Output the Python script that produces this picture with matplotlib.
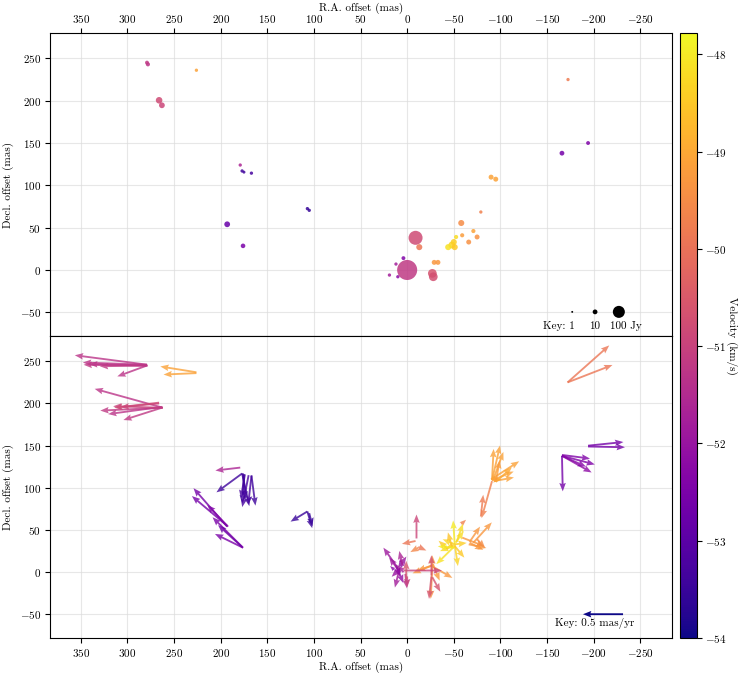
import numpy as np
import matplotlib
matplotlib.use('Agg')
import matplotlib.pyplot as plt
from matplotlib.colors import Normalize

plt.rcParams['font.family'] = 'serif'
plt.rcParams['font.serif'] = ['cmr10', 'DejaVu Serif']
plt.rcParams['mathtext.fontset'] = 'cm'
plt.rcParams['axes.formatter.use_mathtext'] = True
plt.rcParams['font.size'] = 8

# ---------------- spot data (top panel) ----------------
spot_x = [279, 278, 226, 266, 263, -172.5, -194, -166, 179, 177, 175, 167, 193, 176,
          107, 105, 0, -9, -13, 4, 12, 19, 10, -27, -28, -29, -33,
          -44, -48, -50, -52.5, -51, -58, -59, -66, -71, -75, -79, -90, -95]
spot_y = [245, 243, 236, 200.5, 194.6, 225, 150, 138, 124, 117, 115.6, 114.4, 54, 28.5,
          72.5, 70.5, 0, 38, 27, 14, 7, -6, -8, -4, -8, 9, 9,
          27, 29.5, 33, 39, 27, 55.5, 41, 33, 46, 39, 68.5, 109.7, 107.3]
spot_flux = [6, 7, 4, 22, 16, 4, 6, 10, 4, 4, 3, 4, 16, 9,
             4, 4, 360, 147, 18, 6, 4, 4, 4, 45, 45, 11, 11,
             18, 25, 18, 7, 18, 18, 7, 11, 7, 11, 4, 11, 11]
spot_vel = [-51.2, -51.3, -49.1, -50.8, -50.9, -49.8, -52.4, -52.6, -51.6, -53.4, -53.4, -53.3, -52.8, -52.5,
            -53.55, -53.55, -51.2, -50.8, -49.9, -52.4, -51.8, -51.8, -52.2, -50.6, -50.7, -49.3, -49.3,
            -48.1, -48.3, -48.4, -48.2, -48.5, -49.5, -49.2, -49.4, -49.1, -49.4, -49.7, -49.1, -49.1]

# ---------------- proper motion data (bottom panel) ----------------
pm_x = [279, 279, 279, 280, 278, 279,
        226, 226,
        262, 262, 263, 262, 263, 266, 266,
        -172, -172,
        -194, -194,
        -166, -166, -166, -166, -166,
        179,
        177, 177, 175, 167, 167, 174, 176, 170,
        193, 193, 192, 176, 176, 177,
        107, 107, 105,
        -91, -91, -92, -90, -91, -93, -91, -95, -95,
        -91, -79, -58,
        -71, -67, -67, -59, -66, -75,
        -51, -51, -50, -49, -51, -51, -51, -52, -51, -48, -44, -50, -53,
        -27, -27, -27, -28, -27, -29,
        -26, -26, -27,
        -10, -9, -12, -12,
        4,
        10, 8, 8, 6, 4, 12, 2, 14, 0, 6, 1, 9, 11, 5]
pm_y = [246, 246, 245, 245, 245, 245,
        237, 236,
        195, 195, 196, 195, 195, 201, 200,
        225, 225,
        149, 150,
        138, 138, 139, 138, 138,
        124,
        117, 117, 116, 114, 115, 116, 117, 115,
        54, 55, 54, 29, 29, 30,
        72, 72, 70,
        109, 110, 109, 110, 109, 108, 110, 107, 107,
        108, 66, 57,
        35, 36, 35, 41, 33, 39,
        33, 33, 32, 31, 33, 31, 33, 35, 31, 30, 27, 29, 36,
        8, 8, 7, 8, 8, 9,
        -4, -5, -6,
        40, 37, 30, 29,
        2,
        5, 5, 4, 6, 0, 8, -2, 3, -5, 10, -8, 2, 6, 8]
pm_u = [0.90, 0.80, 0.79, 0.71, 0.60, 0.37,
        0.45, 0.41,
        0.85, 0.78, 0.67, 0.62, 0.48, 0.56, 0.48,
        -0.52, -0.56,
        -0.46, -0.44,
        -0.41, -0.37, -0.35, -0.30, -0.01,
        0.31,
        0.32, -0.09, 0.02, 0.04, -0.05, 0.05, -0.03, 0.08,
        0.42, 0.44, 0.26, 0.35, 0.38, 0.30,
        0.21, -0.06, -0.04,
        -0.10, -0.02, -0.13, -0.35, -0.27, -0.25, -0.12, -0.05, -0.20,
        0.13, -0.03, -0.06,
        -0.23, -0.13, -0.17, -0.28, -0.22, -0.10,
        0.02, 0.15, 0.10, 0.16, -0.04, 0.23, -0.15, -0.10, -0.12, 0.05, 0.12, 0.20, -0.08,
        0.02, 0.00, -0.25, -0.08, 0.19, 0.27,
        0.00, 0.03, -0.10,
        0.00, 0.17, -0.10, 0.10,
        -0.48,
        0.18, 0.06, 0.10, 0.02, 0.08, -0.05, -0.02, 0.05, 0.00, -0.06, 0.00, 0.12, -0.08, 0.04]
pm_v = [0.13, 0.03, 0.01, 0.02, -0.01, -0.15,
        0.08, -0.02,
        0.26, -0.04, -0.10, 0.02, -0.17, -0.07, -0.05,
        0.51, 0.24,
        -0.01, 0.05,
        -0.12, -0.23, -0.05, -0.15, -0.49,
        -0.04,
        -0.26, -0.45, -0.40, -0.39, -0.42, -0.33, -0.36, -0.44,
        0.53, 0.41, 0.30, 0.19, 0.42, 0.30,
        -0.14, -0.23, -0.18,
        0.48, 0.42, 0.39, 0.25, 0.12, 0.05, 0.00, 0.30, 0.20,
        -0.51, 0.30, 0.06,
        0.28, 0.21, -0.10, -0.12, -0.05, -0.12,
        0.33, 0.07, -0.04, -0.07, -0.30, -0.25, 0.02, 0.16, -0.16, 0.20, 0.12, 0.02, 0.25,
        -0.46, 0.14, -0.16, -0.21, -0.07, -0.12,
        0.28, -0.31, -0.20,
        0.33, -0.04, -0.05, -0.06,
        0.00,
        0.28, -0.27, -0.11, 0.12, 0.10, -0.15, -0.20, 0.05, -0.15, 0.10, 0.25, 0.18, -0.22, 0.20]
pm_vel = [-51.3, -51.3, -51.2, -51.3, -51.2, -51.3,
          -49.1, -49.1,
          -51.3, -51.2, -51.3, -51.0, -51.2, -50.8, -50.9,
          -49.9, -49.9,
          -52.6, -52.6,
          -52.4, -52.2, -52.4, -52.3, -52.6,
          -51.6,
          -53.4, -53.4, -53.4, -53.3, -53.4, -53.3, -53.4, -53.3,
          -52.6, -52.6, -52.4, -52.5, -52.5, -52.7,
          -53.5, -53.5, -53.5,
          -49.1, -49.1, -49.1, -49.1, -49.1, -49.1, -49.1, -49.2, -49.0,
          -49.7, -49.8, -49.7,
          -49.3, -49.3, -49.3, -49.3, -49.3, -49.5,
          -48.0, -48.3, -48.4, -48.2, -48.3, -48.1, -48.4, -48.2, -48.5, -48.6, -48.5, -48.0, -48.2,
          -49.5, -49.3, -49.3, -49.3, -49.3, -49.3,
          -50.6, -50.6, -50.6,
          -50.9, -49.9, -49.9, -49.6,
          -51.0,
          -51.9, -51.8, -52.0, -52.2, -51.7, -52.1, -51.4, -52.3, -51.0, -52.0, -50.6, -51.9, -52.1, -51.6]

key_flux = [1, 10, 100]
key_pm = 0.5
vmin, vmax = -54.0, -47.78
pm_scale = 86.0  # mas of offset per mas/yr

def flux_to_size(f):
    return 1.88 * np.asarray(f, dtype=float) ** 0.8

cmap = plt.get_cmap('plasma')
norm = Normalize(vmin=vmin, vmax=vmax)

fig = plt.figure(figsize=(7.47, 6.73), dpi=100)
W, H = 747.0, 673.0
ax1 = fig.add_axes([50 / W, 1 - 336 / H, 622 / W, 303 / H])
ax2 = fig.add_axes([50 / W, 1 - 638 / H, 622 / W, 302 / H])
cax = fig.add_axes([680 / W, 1 - 638 / H, 17 / W, 605 / H])

xlim = (383, -284)
ylim = (-78, 280)
xticks = np.arange(350, -251, -50)
yticks = np.arange(-50, 251, 50)

for ax in (ax1, ax2):
    ax.set_xlim(*xlim)
    ax.set_ylim(*ylim)
    ax.set_xticks(xticks)
    ax.set_yticks(yticks)
    ax.grid(True, color='#dddddd', lw=0.8, alpha=0.7)
    ax.set_axisbelow(True)
    ax.set_ylabel('Decl. offset (mas)')
    ax.tick_params(length=3.5, width=0.8, pad=3)

# top panel
ax1.xaxis.tick_top()
ax1.xaxis.set_label_position('top')
ax1.tick_params(axis='x', pad=2)
ax1.set_xlabel('R.A. offset (mas)', labelpad=1.5)
order = np.argsort(spot_flux)[::-1]
ax1.scatter(np.array(spot_x)[order], np.array(spot_y)[order],
            s=flux_to_size(np.array(spot_flux)[order]),
            c=np.array(spot_vel)[order], cmap=cmap, norm=norm,
            alpha=0.85, edgecolors='none')
key_x = [-177, -201.5, -227]
ax1.scatter(key_x, [-49.5] * 3, s=flux_to_size(key_flux), color='black', edgecolors='none')
ax1.text(-180, -66, 'Key: 1', ha='right', va='center')
ax1.text(-201.5, -66, '10', ha='center', va='center')
ax1.text(-217, -66, '100 Jy', ha='left', va='center')

# bottom panel
ax2.set_xlabel('R.A. offset (mas)', labelpad=2)
ax2.quiver(pm_x, pm_y, pm_u, pm_v, pm_vel, cmap=cmap, norm=norm,
           angles='xy', scale_units='xy', scale=1 / pm_scale,
           width=0.003, headwidth=3.5, headlength=4.5, headaxislength=4,
           alpha=0.8)
ax2.quiver([-231.5], [-49.8], [key_pm], [0], color=cmap(0.0),
           angles='xy', scale_units='xy', scale=1 / pm_scale,
           width=0.003, headwidth=3.5, headlength=4.5, headaxislength=4)
ax2.text(-201.5, -60.5, 'Key: 0.5 mas/yr', ha='center', va='center')

# colorbar
sm = plt.cm.ScalarMappable(norm=norm, cmap=cmap)
cb = fig.colorbar(sm, cax=cax)
cb.set_ticks([-48, -49, -50, -51, -52, -53, -54])
cb.set_label('Velocity (km/s)', rotation=270, labelpad=8)
cax.tick_params(length=3.5, width=0.8, pad=2)

fig.savefig('out.png', dpi=100)
